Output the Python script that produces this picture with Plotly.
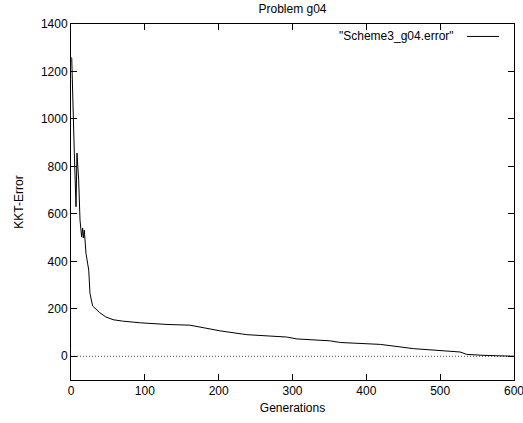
import plotly.graph_objects as go

# KKT error of Scheme3 on problem g04, per generation
generations = [0, 1, 4.5, 6.8, 8.1, 10.4, 12.2, 14.4, 15.8, 16.7, 18, 20.3, 24, 25.7, 29.3,
               33.9, 38.4, 47, 57, 70, 94, 130, 161, 180, 202, 238, 292, 306, 351, 365, 419,
               464, 500, 527, 536, 558, 600]
kkt_error = [1260, 1256, 856, 630, 856, 742, 574, 503, 540, 498, 531, 434, 363, 265, 212,
             196, 185, 166, 154, 148, 141, 134, 131, 120, 107, 91, 81, 73, 65, 58, 50,
             32, 24, 18, 8, 4, 0]

x_ticks = [0, 100, 200, 300, 400, 500, 600]
y_ticks = [0, 200, 400, 600, 800, 1000, 1200, 1400]
x_range = [0, 600]
y_range = [-100, 1400]

FONT = "Liberation Sans, Arial, Helvetica, sans-serif"

fig = go.Figure()

# dotted zero line
fig.add_trace(go.Scatter(x=x_range, y=[0, 0], mode="lines",
                         line=dict(color="#444444", width=1, dash="1px,2px"),
                         hoverinfo="skip", showlegend=False))

fig.add_trace(go.Scatter(x=generations, y=kkt_error, mode="lines",
                         line=dict(color="black", width=1),
                         name='"Scheme3_g04.error"', showlegend=False))

# key: label followed by a line sample
fig.add_annotation(x=0.868, y=0.966, xref="paper", yref="paper",
                   text='"Scheme3_g04.error"', showarrow=False,
                   xanchor="right", yanchor="middle",
                   font=dict(family=FONT, size=12, color="black"))
fig.add_shape(type="line", xref="paper", yref="paper",
              x0=0.894, x1=0.966, y0=0.965, y1=0.965,
              line=dict(color="black", width=1))

axis_common = dict(showline=True, linecolor="black", linewidth=1, mirror="ticks",
                   ticks="inside", ticklen=6, tickcolor="black", tickwidth=1,
                   showgrid=False, zeroline=False, ticklabeloverflow="allow",
                   tickfont=dict(family=FONT, size=12, color="black"))

fig.update_xaxes(range=x_range, tickvals=x_ticks, ticktext=[str(v) for v in x_ticks],
                 title=dict(text="Generations", standoff=6,
                            font=dict(family=FONT, size=12, color="black")),
                 automargin=False, **axis_common)
fig.update_yaxes(range=y_range, tickvals=y_ticks, ticktext=[str(v) for v in y_ticks],
                 title=dict(text="KKT-Error", standoff=14,
                            font=dict(family=FONT, size=12, color="black")),
                 automargin=False, **axis_common)

fig.update_layout(
    width=523, height=423,
    margin=dict(l=71, r=9, t=24, b=43),
    paper_bgcolor="white", plot_bgcolor="white",
    title=dict(text="Problem g04", x=0.5, xref="paper", xanchor="center",
               y=1 - 9 / 423, yref="container", yanchor="middle",
               font=dict(family=FONT, size=12, color="black")),
    showlegend=False,
)

fig.write_html("out.html")
